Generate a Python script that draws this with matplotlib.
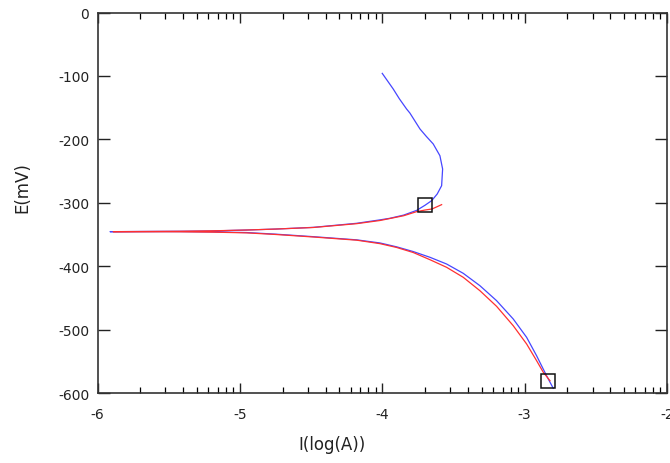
import numpy as np
import matplotlib
matplotlib.use("Agg")
import matplotlib.pyplot as plt
from matplotlib.ticker import FixedLocator

# Measured polarisation curve (log current vs potential), cathodic end -> anodic end
meas_logi = [-2.799, -2.846, -2.916, -2.986, -3.080, -3.197, -3.314, -3.431, -3.548,
             -3.665, -3.782, -3.899, -4.016, -4.18, -4.484, -4.75, -4.952, -5.2,
             -5.42, -5.70, -5.912,
             -5.70, -5.42, -5.2, -4.952, -4.75, -4.484, -4.18, -4.016, -3.946,
             -3.85, -3.758, -3.70, -3.653, -3.614, -3.583, -3.576, -3.595, -3.642,
             -3.690, -3.735, -3.806, -3.829, -3.880, -3.923, -4.0]
meas_e = [-592.6, -572.7, -541.2, -512.2, -483.3, -454.4, -430.8, -411.3, -396.6,
          -386.0, -377.0, -369.5, -363.4, -358.5, -353.5, -349.5, -347, -346,
          -345.5, -345.5, -345.6,
          -345.3, -345, -344.5, -343, -341.5, -338.8, -332.4, -327, -324.5,
          -319.5, -312, -304, -296.7, -286.2, -273.1, -246.8, -225.8, -207.3,
          -195.5, -183.7, -158.5, -152.2, -136, -120.6, -96]

# Tafel fit curve
fit_logi = [-2.822, -2.869, -2.916, -2.986, -3.080, -3.197, -3.314, -3.431, -3.548,
            -3.665, -3.782, -3.899, -4.016, -4.18, -4.484, -4.75, -4.952, -5.2,
            -5.42, -5.70, -5.89,
            -5.70, -5.42, -5.2, -4.952, -4.75, -4.484, -4.18, -4.016, -3.85,
            -3.758, -3.70, -3.65, -3.583]
fit_e = [-580.6, -567.3, -549, -522.7, -493.9, -463.3, -438.7, -417.6, -401.8,
         -389.8, -378.5, -370.5, -364.5, -359, -354, -350, -347.5, -346.3,
         -345.8, -345.6, -345.6,
         -345.4, -345, -344.3, -343, -341.5, -339, -333, -328, -320.5,
         -314, -311.5, -309.8, -303]

# Fit-range end points
sel_logi = [-3.70, -2.836]
sel_e = [-303.5, -580.6]

x_major = [-6, -5, -4, -3, -2]
y_major = [0, -100, -200, -300, -400, -500, -600]

fig = plt.figure(figsize=(6.70, 4.64), dpi=100)
ax = fig.add_axes([97.5 / 670, 1 - 394 / 464, 569.5 / 670, 380.5 / 464])

ax.plot(meas_logi, meas_e, color="#4646ff", lw=0.9, zorder=3)
ax.plot(fit_logi, fit_e, color="#ff3030", lw=0.9, zorder=4)
ax.plot(sel_logi, sel_e, ls="none", marker="s", ms=9.8, mfc="none",
        mec="#111111", mew=1.1, zorder=5)

ax.set_xlim(-6, -2)
ax.set_ylim(-600, 0)

# decade minor ticks at log positions
minor = [d + np.log10(k) for d in x_major[:-1] for k in range(2, 10)]
ax.xaxis.set_major_locator(FixedLocator(x_major))
ax.xaxis.set_minor_locator(FixedLocator(minor))
ax.yaxis.set_major_locator(FixedLocator(y_major))
ax.set_xticklabels([str(v) for v in x_major])
ax.set_yticklabels([str(v) for v in y_major])

ax.tick_params(axis="x", which="major", direction="in", length=7, width=1.0,
               top=True, bottom=True, labelsize=10, pad=10, colors="#222222")
ax.tick_params(axis="x", which="minor", direction="in", length=4, width=0.9,
               top=True, bottom=True)
ax.tick_params(axis="y", which="major", direction="in", length=8.5, width=1.0,
               left=True, right=True, labelsize=10, pad=6, colors="#222222")

for s in ax.spines.values():
    s.set_linewidth(1.2)
    s.set_color("#333333")

ax.set_xlabel("I(log(A))", fontsize=12, color="#222222")
ax.set_ylabel("E(mV)", fontsize=12, color="#222222")
ax.xaxis.set_label_coords((332 - 97.5) / 569.5, -(445 - 394) / 380.5)
ax.xaxis.label.set_va("center")
ax.yaxis.set_label_coords((22 - 97.5) / 569.5, (394 - 188) / 380.5)
ax.yaxis.label.set_va("center")

fig.savefig("out.png", dpi=100)
